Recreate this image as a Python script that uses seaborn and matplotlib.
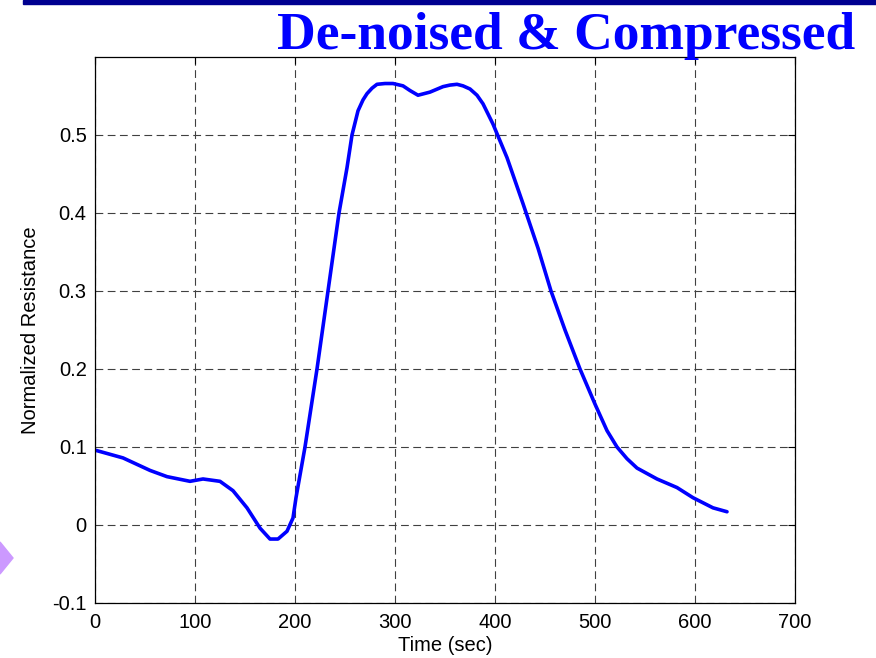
import matplotlib
matplotlib.use('Agg')
import matplotlib.pyplot as plt
import matplotlib.patches as mpatches
import numpy as np
import pandas as pd
import seaborn as sns

# values
time_sec = [0, 28, 55, 72, 95, 108, 125, 138, 152, 165, 175, 183, 192, 198, 201,
            210, 222, 233, 244, 252, 257, 263, 268, 272, 277, 282, 290, 298, 308,
            315, 323, 335, 348, 355, 362, 368, 375, 382, 388, 398, 412, 428, 443,
            456, 470, 485, 500, 512, 522, 532, 542, 562, 582, 598, 618, 632]
resistance = [0.096, 0.086, 0.070, 0.062, 0.056, 0.059, 0.056, 0.044, 0.022, -0.004,
              -0.018, -0.018, -0.008, 0.009, 0.035, 0.1, 0.2, 0.3, 0.4, 0.458, 0.5,
              0.531, 0.545, 0.553, 0.560, 0.565, 0.566, 0.566, 0.563, 0.557, 0.551,
              0.555, 0.562, 0.564, 0.565, 0.563, 0.559, 0.551, 0.540, 0.514, 0.471,
              0.412, 0.355, 0.3, 0.25, 0.2, 0.155, 0.121, 0.1, 0.085, 0.073, 0.059,
              0.048, 0.035, 0.022, 0.017]
x_ticks = [0, 100, 200, 300, 400, 500, 600, 700]
y_ticks = [-0.1, 0, 0.1, 0.2, 0.3, 0.4, 0.5]
y_tick_labels = ['-0.1', '0', '0.1', '0.2', '0.3', '0.4', '0.5']
title = 'De-noised & Compressed'

sns.set_style('white')
plt.rcParams['font.family'] = ['Liberation Sans', 'DejaVu Sans']
plt.rcParams['text.color'] = 'black'
plt.rcParams['axes.labelcolor'] = 'black'

data = pd.DataFrame({'Time (sec)': time_sec, 'Normalized Resistance': resistance})

fig = plt.figure(figsize=(8.76, 6.58), dpi=100)
ax = fig.add_axes([95/876, 1 - 603/658, 700/876, (603 - 57)/658])

sns.lineplot(data=data, x='Time (sec)', y='Normalized Resistance', ax=ax,
             color='#0000ff', linewidth=2.6, sort=False, estimator=None)

ax.set_xlim(0, 700)
ax.set_ylim(-0.1, 0.6)
ax.set_xticks(x_ticks)
ax.set_xticklabels([str(t) for t in x_ticks])
ax.set_yticks(y_ticks)
ax.set_yticklabels(y_tick_labels)
ax.tick_params(direction='in', length=5, width=0.8, labelsize=14.5, colors='black',
               labelcolor='black', top=True, right=True)
ax.tick_params(axis='x', pad=7)
ax.tick_params(axis='y', pad=6)
ax.grid(True, color='0.25', linestyle=(0, (7, 4)), linewidth=0.8)
for s in ax.spines.values():
    s.set_color('black')
    s.set_linewidth(0.9)
ax.set_xlabel('Time (sec)', fontsize=14.5, labelpad=3)
ax.set_ylabel('Normalized Resistance', fontsize=14.5, labelpad=9)

# slide decorations
fig.patches.append(mpatches.Rectangle((23/876, 1 - 4/658), 1, 4/658,
                                      transform=fig.transFigure, color='#000090'))
fig.patches.append(mpatches.Polygon([(0, 1 - 542/658), (13/876, 1 - 558/658), (0, 1 - 574/658)],
                                    closed=True, transform=fig.transFigure, color='#cc99ff'))
fig.text(855/876, 1 - 49/658, title, ha='right', va='baseline', color='#0000ff',
         fontsize=38.5, fontweight='bold', family=['Liberation Serif', 'DejaVu Serif'])

fig.savefig('out.png', dpi=100)
